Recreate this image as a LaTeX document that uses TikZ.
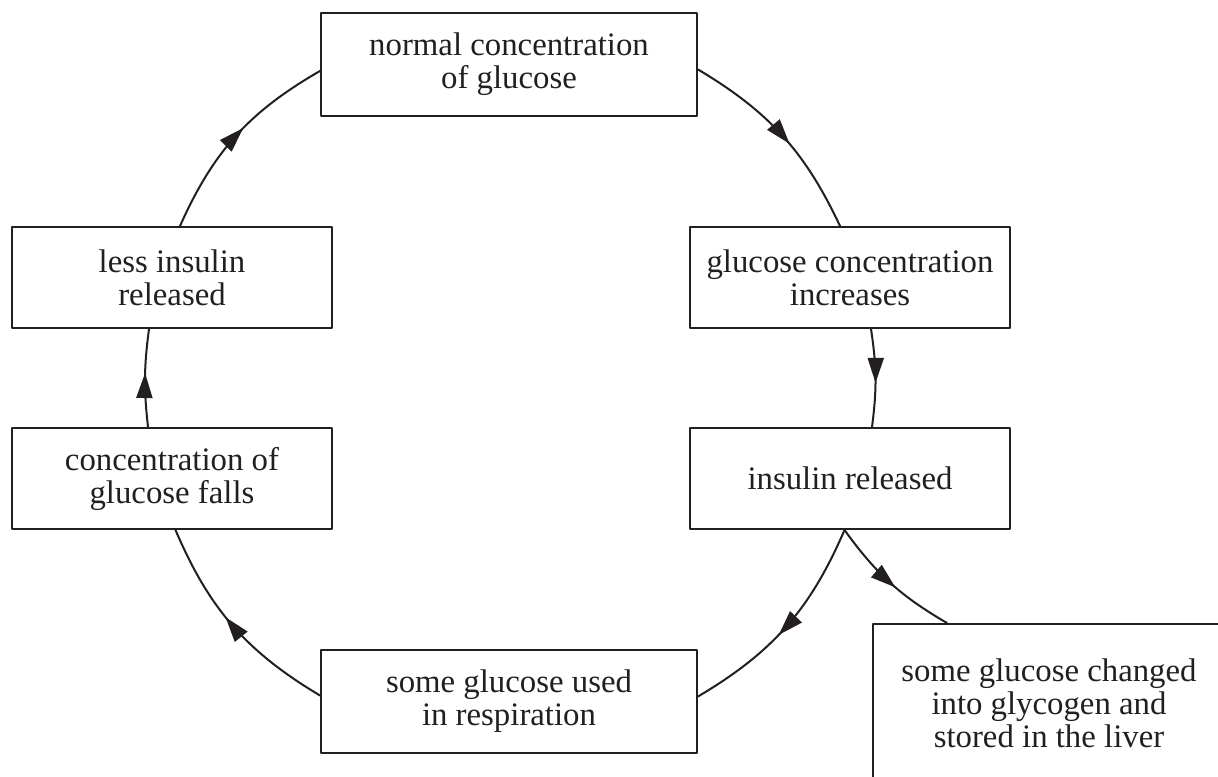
\documentclass[tikz,border=0pt]{standalone}
\usepackage{fontspec}
\setmainfont{Liberation Serif}
\usepackage{tikz}
\usetikzlibrary{arrows.meta}
\usetikzlibrary{decorations.markings}
\definecolor{ink}{RGB}{35,31,32}

\begin{document}
\begin{tikzpicture}[line cap=round,line join=round,x=0.5pt,y=0.5pt,
  stage/.style={draw=ink,line width=1pt,align=center,minimum width=160pt,minimum height=50.5pt,inner sep=2pt,text=ink,font=\fontsize{16.4}{16.5}\selectfont},
  wide/.style={minimum width=188pt,minimum height=51.5pt},
  flow/.style={color=ink,line width=1pt,postaction={decorate},
    decoration={markings,mark=at position 0.55 with {\arrow{Triangle[length=12.5pt,width=8pt]}}}}]
\useasboundingbox (0,0) rectangle (1218,776);
\clip (0,0) rectangle (1218,776);
% stages of the cycle
\node[stage,wide] (normal) at (509,711.5) {normal concentration\\of glucose};
\node[stage] (inc) at (850,498.5) {glucose concentration\\increases};
\node[stage] (ins) at (850,297.5) {insulin released};
\node[stage,wide] (resp) at (509,74.5) {some glucose used\\in respiration};
\node[stage] (fall) at (172,297.5) {concentration of\\glucose falls};
\node[stage] (less) at (172,498.5) {less insulin\\released};
\node[stage,minimum width=176pt,minimum height=79pt] (glyc) at (1049,73) {some glucose changed\\into glycogen and\\stored in the liver};
% arrows round the circle
\draw[flow] ([yshift=-2.5pt]normal.east) to[bend left=17] ([xshift=-5pt]inc.north);
\draw[flow] ([xshift=10.5pt]inc.south) to[bend left=8] ([xshift=11pt]ins.north);
\draw[flow] ([xshift=-2.75pt]ins.south) to[bend left=18] ([yshift=2.5pt]resp.east);
\draw[flow] ([yshift=3pt]resp.west) to[bend left=18] ([xshift=1.75pt]fall.south);
\draw[flow] ([xshift=-12pt]fall.north) to[bend left=7] ([xshift=-11.5pt]less.south);
\draw[flow] ([xshift=4pt]less.north) to[bend left=18] ([yshift=-3.25pt]normal.west);
% side branch
\draw[flow] ([xshift=-2.75pt]ins.south) to[bend right=12] ([xshift=-51pt]glyc.north);
\end{tikzpicture}
\end{document}
